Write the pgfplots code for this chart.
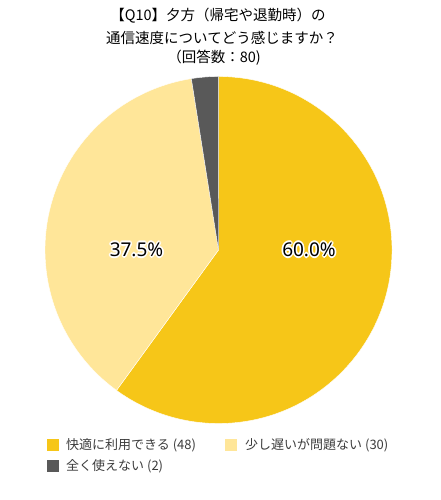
\documentclass[border=0pt]{standalone}
\usepackage{pgfplots}
\pgfplotsset{compat=1.18}
\usepackage{fontspec}
\setmainfont{Noto Sans CJK JP}
\newfontfamily\labfont{Noto Sans}
\definecolor{cA}{RGB}{246,198,24}
\definecolor{cB}{RGB}{255,230,153}
\definecolor{cC}{RGB}{89,89,89}
\definecolor{legtext}{RGB}{60,60,60}
\begin{document}
\begin{tikzpicture}
\begin{axis}[
  hide axis, scale only axis, x=1pt, y=1pt,
  xmin=0, xmax=440, ymin=0, ymax=500,
  clip=false, anchor=origin, at={(0,0)},
]
% values: 48, 30, 2 of 80
\pgfmathsetmacro{\tot}{48+30+2}
\pgfmathsetmacro{\aA}{90}
\pgfmathsetmacro{\aB}{90-48/\tot*360}
\pgfmathsetmacro{\aC}{\aB-30/\tot*360}
\pgfmathsetmacro{\aD}{\aC-2/\tot*360}
\fill[cA,draw=white,line width=0.4pt] (axis cs:218.5,250) -- ++(\aA:173.5pt) arc[start angle=\aA, end angle=\aB, radius=173.5pt] -- cycle;
\fill[cB,draw=white,line width=0.4pt] (axis cs:218.5,250) -- ++(\aB:173.5pt) arc[start angle=\aB, end angle=\aC, radius=173.5pt] -- cycle;
\fill[cC,draw=white,line width=0.4pt] (axis cs:218.5,250) -- ++(\aC:173.5pt) arc[start angle=\aC, end angle=\aD, radius=173.5pt] -- cycle;
\coordinate (LA) at (axis cs:309,243.5);
\coordinate (LB) at (axis cs:136.5,243.5);
\end{axis}
\useasboundingbox (0,0) rectangle (440pt,500pt);
% pie labels with white halo
\foreach \a in {0,45,...,315}{
  \node[white,anchor=base,inner sep=0pt,font=\labfont\fontsize{19}{21}\selectfont] at ([shift={(\a:1.6pt)}]LA) {60.0\%};
  \node[white,anchor=base,inner sep=0pt,font=\labfont\fontsize{19}{21}\selectfont] at ([shift={(\a:1.6pt)}]LB) {37.5\%};
}
\node[black,anchor=base,inner sep=0pt,font=\labfont\fontsize{19}{21}\selectfont] at (LA) {60.0\%};
\node[black,anchor=base,inner sep=0pt,font=\labfont\fontsize{19}{21}\selectfont] at (LB) {37.5\%};
% title
\node[anchor=base,inner sep=0pt,font=\fontsize{14.5}{17}\selectfont] at (218pt,479pt) {【Q10】夕方（帰宅や退勤時）の};
\node[anchor=base,inner sep=0pt,font=\fontsize{14.5}{17}\selectfont] at (222pt,456.5pt) {通信速度についてどう感じますか？};
\node[anchor=base,inner sep=0pt,font=\fontsize{14.5}{17}\selectfont] at (214pt,437.5pt) {（回答数：80)};
% legend
\fill[cA] (47pt,49pt) rectangle (59pt,61pt);
\node[anchor=base west,inner sep=0pt,text=legtext,font=\fontsize{13}{15}\selectfont] at (66pt,50.25pt) {快適に利用できる (48)};
\fill[cB] (225pt,49pt) rectangle (237pt,61pt);
\node[anchor=base west,inner sep=0pt,text=legtext,font=\fontsize{13}{15}\selectfont] at (245pt,50.25pt) {少し遅いが問題ない (30)};
\fill[cC] (47pt,28pt) rectangle (59pt,40pt);
\node[anchor=base west,inner sep=0pt,text=legtext,font=\fontsize{13}{15}\selectfont] at (66pt,29.25pt) {全く使えない (2)};
\end{tikzpicture}
\end{document}
